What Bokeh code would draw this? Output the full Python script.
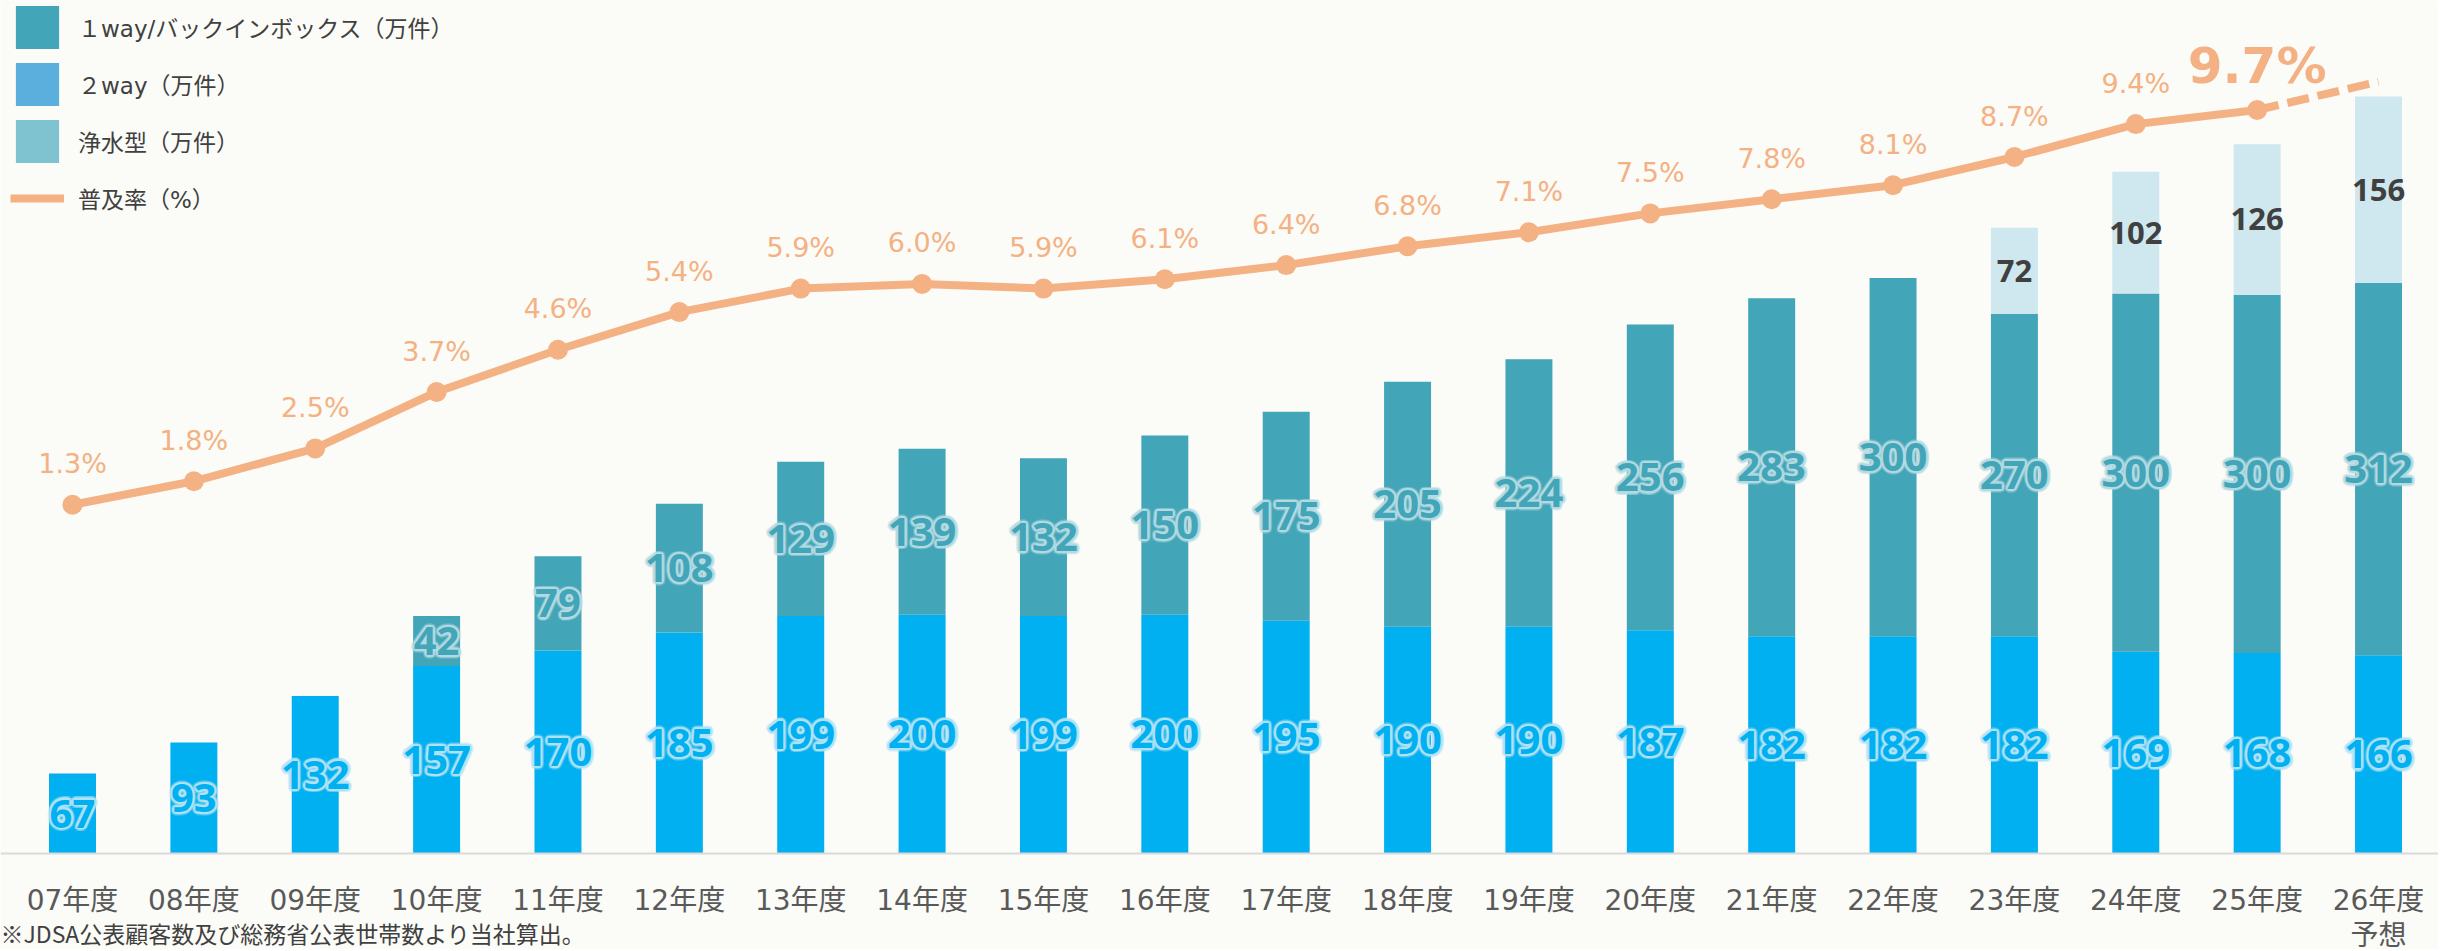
import math
from bokeh.plotting import figure
from bokeh.models import (Range1d, FixedTicker, ColumnDataSource, Legend,
                          LegendItem, Label)
from bokeh.core.properties import value
from bokeh.embed import file_html
from bokeh.resources import INLINE

# ---------------- data ----------------
years = ["07年度", "08年度", "09年度", "10年度", "11年度", "12年度", "13年度",
         "14年度", "15年度", "16年度", "17年度", "18年度", "19年度", "20年度",
         "21年度", "22年度", "23年度", "24年度", "25年度", "26年度"]
two_way = [67, 93, 132, 157, 170, 185, 199, 200, 199, 200, 195, 190, 190, 187,
           182, 182, 182, 169, 168, 166]
one_way = [0, 0, 0, 42, 79, 108, 129, 139, 132, 150, 175, 205, 224, 256, 283,
           300, 270, 300, 300, 312]
purifier = [0, 0, 0, 0, 0, 0, 0, 0, 0, 0, 0, 0, 0, 0, 0, 0, 72, 102, 126, 156]
rate = [1.3, 1.8, 2.5, 3.7, 4.6, 5.4, 5.9, 6.0, 5.9, 6.1, 6.4, 6.8, 7.1, 7.5,
        7.8, 8.1, 8.7, 9.4, 9.7, 10.3]
forecast_note = "予想"
footnote = "※JDSA公表顧客数及び総務省公表世帯数より当社算出。"
legend_labels = ["１way/バックインボックス（万件）", "２way（万件）",
                 "浄水型（万件）", "普及率（%）"]

# ---------------- styling ----------------
BG = "#FBFBF7"
C_ONE = "#42A5B8"
C_TWO = "#00B0F0"
C_PUR = "#CFE7EE"
C_ONE_LEG = "#42A5B8"
C_TWO_LEG = "#5BAFDC"
C_PUR_LEG = "#7FC2D0"
C_RATE = "#F4B183"
TXT = "#404040"
TICK = "#595959"
JP = "'DejaVu Sans', 'Noto Sans CJK JP'"

W, H = 2438, 949
BASE_PX = 853             # pixel row of the zero line
PX_UNIT = 1.194           # px per 万件
PX_PCT = 47.0             # px per %
ZERO_PCT_PX = 565.4
X0_PX, STEP_PX = 72.0, 121.37
XS, XE = -X0_PX / STEP_PX, (W - X0_PX) / STEP_PX
YS, YE = -(H - BASE_PX) / PX_UNIT, BASE_PX / PX_UNIT

LEG_GLYPH, LEG_SPACING, LEG_ITEMS = 54, 3, 4
LEG_H = LEG_ITEMS * LEG_GLYPH + (LEG_ITEMS - 1) * LEG_SPACING

x = list(range(len(years)))
t2 = two_way[:]
t1 = [a + b for a, b in zip(two_way, one_way)]
tp = [a + b for a, b in zip(t1, purifier)]

p = figure(width=W, height=H, output_backend="svg", toolbar_location=None,
           x_range=Range1d(XS, XE), y_range=Range1d(YS, YE),
           y_axis_location=None,
           min_border_left=0, min_border_right=0, min_border_top=0,
           min_border_bottom=0)
p.extra_y_ranges = {"pct": Range1d(-(H - ZERO_PCT_PX) / PX_PCT,
                                   ZERO_PCT_PX / PX_PCT)}
p.background_fill_color = BG
p.border_fill_color = BG
p.outline_line_color = None
p.xgrid.visible = False
p.ygrid.visible = False

# x axis drawn at the zero line
p.xaxis.fixed_location = 0
p.xaxis.ticker = FixedTicker(ticks=x)
p.xaxis.major_label_overrides = {i: years[i] for i in x}
p.xaxis.axis_line_color = "#D9D9D9"
p.xaxis.axis_line_width = 2
p.xaxis.major_tick_line_color = None
p.xaxis.minor_tick_line_color = None
p.xaxis.major_label_text_font = JP
p.xaxis.major_label_text_font_size = "28px"
p.xaxis.major_label_text_color = TICK
p.xaxis.major_label_standoff = 24

# bars
src = ColumnDataSource(dict(x=x, t2=t2, t1=t1, tp=tp))
BW = 0.387
p.vbar(x="x", width=BW, bottom=0, top="t2", source=src, fill_color=C_TWO,
       line_color=None)
p.vbar(x="x", width=BW, bottom="t2", top="t1", source=src, fill_color=C_ONE,
       line_color=None)
p.vbar(x="x", width=BW, bottom="t1", top="tp", source=src, fill_color=C_PUR,
       line_color=None)


def glow_text(xs, ys, texts, color, glow, size):
    s = ColumnDataSource(dict(x=xs, y=ys, t=texts))
    for rad, alpha in ((3.6, 0.25), (2.2, 0.7)):
        for k in range(12):
            a = k * math.pi / 6
            p.text(x="x", y="y", text="t", source=s,
                   x_offset=rad * math.cos(a), y_offset=rad * math.sin(a),
                   text_color=glow, text_alpha=alpha,
                   text_font=value("Noto Sans"), text_font_style="bold",
                   text_font_size=size, text_align="center",
                   text_baseline="middle")
    p.text(x="x", y="y", text="t", source=s, text_color=color,
           text_font=value("Noto Sans"), text_font_style="bold",
           text_font_size=size, text_align="center", text_baseline="middle")


# 2way labels
glow_text(x, [v / 2 for v in two_way], [str(v) for v in two_way],
          C_TWO, "#B0E3F6", "40px")
# 1way labels
ix1 = [i for i in x if one_way[i] > 0]
glow_text(ix1, [t2[i] + one_way[i] / 2 for i in ix1],
          [str(one_way[i]) for i in ix1], C_ONE, "#B4DBE3", "40px")
# purifier labels
ixp = [i for i in x if purifier[i] > 0]
psrc = ColumnDataSource(dict(x=ixp, y=[t1[i] + purifier[i] / 2 for i in ixp],
                             t=[str(purifier[i]) for i in ixp]))
p.text(x="x", y="y", text="t", source=psrc, text_color=TXT,
       text_font=value("Noto Sans"), text_font_style="bold",
       text_font_size="31px", text_align="center", text_baseline="middle")

# rate line
p.line(x[:19], rate[:19], y_range_name="pct", line_color=C_RATE, line_width=8,
       line_join="round")
p.line(x[18:], rate[18:], y_range_name="pct", line_color=C_RATE, line_width=8,
       line_dash="22 9")
p.scatter(x[:19], rate[:19], y_range_name="pct", size=20, fill_color=C_RATE,
          line_color=None)

rsrc = ColumnDataSource(dict(x=x[:18], y=rate[:18],
                             t=[f"{r:.1f}%" for r in rate[:18]]))
p.text(x="x", y="y", text="t", source=rsrc, y_range_name="pct", y_offset=-41,
       text_color=C_RATE, text_font=value("DejaVu Sans"),
       text_font_size="27px", text_align="center",
       text_baseline="alphabetic")
hsrc = ColumnDataSource(dict(x=[x[18]], y=[rate[18]],
                             t=[f"{rate[18]:.1f}%"]))
p.text(x="x", y="y", text="t", source=hsrc, y_range_name="pct", y_offset=-44,
       text_color=C_RATE, text_font=value("DejaVu Sans"),
       text_font_style="bold", text_font_size="50px", text_align="center",
       text_baseline="alphabetic")

# legend (proxy renderers hold the legend colours; their NaN point is not drawn)
nan = float("nan")
lr1 = p.vbar(x="x", top="top", width=0.3,
             source=ColumnDataSource(dict(x=[nan], top=[nan])),
             fill_color=C_ONE_LEG, line_color=None)
lr2 = p.vbar(x="x", top="top", width=0.3,
             source=ColumnDataSource(dict(x=[nan], top=[nan])),
             fill_color=C_TWO_LEG, line_color=None)
lr3 = p.vbar(x="x", top="top", width=0.3,
             source=ColumnDataSource(dict(x=[nan], top=[nan])),
             fill_color=C_PUR_LEG, line_color=None)
lr4 = p.line(x="x", y="y", source=ColumnDataSource(dict(x=[nan], y=[nan])),
             line_color=C_RATE, line_width=8)
legend = Legend(items=[LegendItem(label=legend_labels[0], renderers=[lr1]),
                       LegendItem(label=legend_labels[1], renderers=[lr2]),
                       LegendItem(label=legend_labels[2], renderers=[lr3]),
                       LegendItem(label=legend_labels[3], renderers=[lr4])],
                location=(10, H - LEG_H), padding=0, margin=0,
                spacing=LEG_SPACING, glyph_width=LEG_GLYPH,
                glyph_height=LEG_GLYPH, label_standoff=14,
                label_text_font=JP, label_text_font_size="23px",
                label_text_color=TXT, background_fill_alpha=0,
                border_line_color=None)
p.add_layout(legend)

# forecast note under the last tick, and the source footnote
p.add_layout(Label(x=x[-1], y=-68.7, text=forecast_note, text_align="center",
                   text_baseline="middle", text_font=JP,
                   text_font_size="28px", text_color=TICK))
p.add_layout(Label(x=XS, y=YS, text=footnote, text_align="left",
                   text_baseline="bottom", text_font="'Noto Sans CJK JP'",
                   text_font_size="23px", text_color=TXT))

open("out.html", "w").write(file_html(p, INLINE))
